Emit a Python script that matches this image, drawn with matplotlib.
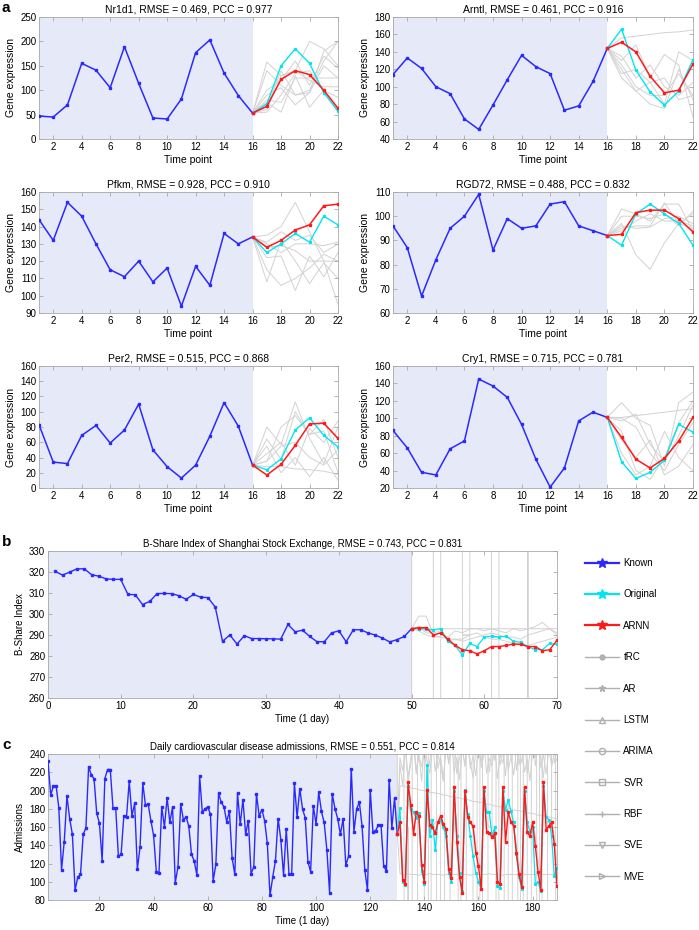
import matplotlib
matplotlib.use("Agg")
import matplotlib.pyplot as plt
from matplotlib.lines import Line2D

plt.rcParams['font.family'] = ['Liberation Sans', 'DejaVu Sans']
plt.rcParams['font.size'] = 7

# ---------------- data: panel a (genes) ----------------
t_known_a = list(range(1, 17))
t_pred_a = list(range(16, 23))

genes = ["Nr1d1", "Arntl", "Pfkm", "RGD72", "Per2", "Cry1"]
rmse_a = ["0.469", "0.461", "0.928", "0.488", "0.515", "0.715"]
pcc_a = ["0.977", "0.916", "0.910", "0.832", "0.868", "0.781"]

nr1d1_known = [47, 45, 70, 155, 141, 105, 189, 114, 43, 41, 82, 177, 203, 135, 89, 53]
nr1d1_orig = [53, 72, 150, 185, 155, 95, 57]
nr1d1_arnn = [53, 67, 122, 140, 132, 100, 63]
nr1d1_gray = [
    [53, 158, 130, 140, 200, 185, 150],
    [53, 140, 110, 90, 95, 180, 200],
    [53, 100, 120, 160, 110, 170, 145],
    [53, 60, 130, 140, 120, 107, 107],
    [53, 75, 55, 130, 65, 100, 60],
    [53, 90, 105, 70, 95, 150, 125],
    [53, 80, 75, 125, 125, 125, 125],
    [53, 55, 90, 135, 140, 100, 85],
    [53, 65, 140, 90, 100, 160, 200],
]

arntl_known = [114, 133, 121, 100, 92, 63, 51, 79, 108, 136, 123, 115, 73, 78, 106, 144]
arntl_orig = [144, 166, 119, 94, 79, 95, 131]
arntl_arnn = [144, 151, 140, 112, 93, 96, 126]
arntl_gray = [
    [144, 156, 158, 160, 162, 163, 165],
    [144, 130, 148, 110, 137, 125, 65],
    [144, 110, 95, 105, 80, 140, 130],
    [144, 120, 95, 80, 75, 120, 85],
    [144, 135, 110, 125, 100, 90, 105],
    [144, 125, 100, 90, 90, 115, 90],
    [144, 115, 120, 105, 110, 85, 90],
]

pfkm_known = [144, 132, 154, 146, 130, 115, 111, 120, 108, 116, 94, 117, 106, 136, 130, 134]
pfkm_orig = [134, 125, 130, 136, 131, 146, 141]
pfkm_arnn = [134, 128, 132, 138, 141, 152, 153]
pfkm_gray = [
    [134, 135, 140, 154, 137, 120, 95],
    [134, 122, 123, 103, 123, 111, 125],
    [134, 115, 106, 110, 116, 124, 120],
    [134, 108, 132, 120, 107, 119, 110],
    [134, 130, 125, 130, 130, 129, 131],
    [134, 128, 129, 126, 120, 120, 120],
    [134, 131, 137, 132, 135, 125, 130],
]

rgd72_known = [96, 87, 67, 82, 95, 100, 109, 86, 99, 95, 96, 105, 106, 96, 94, 92]
rgd72_orig = [92, 88, 101, 105, 101, 97, 88]
rgd72_arnn = [92, 92.5, 101.5, 102.5, 102.5, 99, 93.5]
rgd72_gray = [
    [92, 103, 101, 98, 105, 105, 94],
    [92, 97, 84, 78, 89, 97, 101],
    [92, 95, 96, 96, 105.5, 97, 95],
    [92, 100, 100, 99, 101, 96, 102],
    [92, 94, 98, 101, 98, 98, 96],
    [92, 96, 95, 95.5, 99, 100, 97],
]

per2_known = [83, 34, 32, 69, 82, 59, 76, 110, 50, 28, 13, 30, 68, 112, 81, 30]
per2_orig = [30, 24, 38, 76, 92, 69, 54]
per2_arnn = [30, 17, 31, 56, 84, 85, 65]
per2_gray = [
    [30, 80, 57, 113, 65, 32, 80],
    [30, 64, 38, 100, 70, 90, 40],
    [30, 35, 80, 95, 70, 75, 20],
    [30, 28, 28, 25, 24, 22, 18],
    [30, 55, 20, 40, 15, 40, 10],
    [30, 35, 55, 60, 40, 30, 50],
    [30, 45, 60, 30, 78, 60, 88],
]

cry1_known = [86, 66, 38, 35, 65, 74, 145, 137, 124, 93, 53, 21, 43, 97, 107, 101]
cry1_orig = [101, 50, 31, 38, 52, 93, 84]
cry1_arnn = [101, 78, 53, 43, 54, 74, 101]
cry1_gray = [
    [101, 101, 103, 105, 107, 109, 111],
    [101, 118, 100, 92, 45, 118, 130],
    [101, 97, 105, 70, 50, 80, 115],
    [101, 60, 35, 45, 85, 55, 40],
    [101, 85, 40, 30, 55, 95, 120],
    [101, 100, 90, 60, 40, 70, 95],
    [101, 75, 55, 75, 35, 45, 70],
]

gene_known = [nr1d1_known, arntl_known, pfkm_known, rgd72_known, per2_known, cry1_known]
gene_orig = [nr1d1_orig, arntl_orig, pfkm_orig, rgd72_orig, per2_orig, cry1_orig]
gene_arnn = [nr1d1_arnn, arntl_arnn, pfkm_arnn, rgd72_arnn, per2_arnn, cry1_arnn]
gene_gray = [nr1d1_gray, arntl_gray, pfkm_gray, rgd72_gray, per2_gray, cry1_gray]
gene_ylim = [(0, 250), (40, 180), (90, 160), (60, 110), (0, 160), (20, 160)]
gene_ystep = [50, 20, 10, 10, 20, 20]

# ---------------- data: panel b (stock) ----------------
t_known_b = list(range(1, 51))
t_pred_b = list(range(50, 71))
stock_known = [320.3, 318.5, 320, 321.5, 321.5, 318.7, 318, 316.7, 316.5, 316.5,
               309.3, 309.2, 304.5, 306, 309.7, 309.8, 309.7, 308.7, 307, 309.3,
               308, 307.8, 303.3, 287, 290, 285.7, 289.7, 288.3, 288.3, 288.2,
               288.2, 288, 295, 291.5, 292.3, 289.3, 286.8, 286.8, 291, 292,
               286.8, 292.5, 292.5, 291, 290, 288.5, 286.7, 287.8, 289.3, 293]
stock_orig = [293, 293, 293, 292.5, 293, 287, 285, 280.5, 286, 284.5, 289,
              289.5, 289, 289.5, 287, 286.5, 284.5, 283, 283, 286, 285.5]
stock_arnn = [293, 293.5, 293.5, 290, 291, 288, 285, 283, 282.5, 281, 282.5,
              284.5, 284.5, 285, 285.7, 285.5, 284.5, 284.5, 282.5, 283, 287.5]
stock_gray = [
    [293, 299, 299, 290, 291, 289, 292, 291, 293, 293, 292, 293, 292, 291, 293, 292, 293, 294, 296, 293, 291],
    [293, 293, 292, 292, 293, 293, 293, 293, 293, 293, 293, 293, 293, 293, 293, 293, 293, 293, 293, 293, 293],
    [293, 292, 290, 289, 289, 288, 288, 287, 288, 289, 290, 291, 290, 289, 289, 288, 290, 291, 292, 293, 290],
    [293, 294, 291, 291, 292, 287, 288, 288, 290, 291, 289, 288, 288, 287, 286, 286, 285, 286, 287, 288, 289],
    [293, 5000, 5000, 290, 289, 5000, 5000, 290, 290, 5000, 5000, 289, 289, 5000, 5000, 5000, 290, 5000, 5000, 5000, 5000],
    [293, -5000, -5000, 290, 289, -5000, -5000, 290, 290, -5000, -5000, 289, 289, -5000, -5000, -5000, 290, -5000, -5000, -5000, -5000],
]

# ---------------- data: panel c (admissions) ----------------
t_known_c = list(range(1, 131))
t_pred_c = list(range(130, 190))
adm_known = [232, 195, 205, 205, 181, 113, 144, 194, 169, 152,
             91, 105, 108, 152, 159, 226, 217, 213, 175, 164,
             123, 213, 223, 223, 181, 181, 128, 130, 172, 171,
             210, 172, 186, 114, 138, 208, 184, 185, 167, 151,
             111, 110, 182, 160, 192, 165, 182, 99, 116, 185,
             168, 171, 161, 130, 123, 107, 216, 176, 180, 182,
             174, 101, 119, 197, 187, 182, 166, 177, 126, 108,
             197, 163, 190, 152, 167, 109, 116, 196, 172, 179,
             167, 142, 85, 105, 123, 169, 146, 107, 158, 109,
             108, 208, 171, 202, 180, 170, 122, 111, 183, 163,
             198, 177, 165, 135, 88, 196, 180, 169, 152, 169,
             118, 128, 224, 155, 180, 187, 161, 113, 91, 201,
             155, 156, 162, 162, 117, 112, 212, 159, 192, 152]
adm_arnn = [152, 165, 102, 98, 209, 184, 152, 176, 172, 118,
            100, 201, 162, 160, 153, 165, 172, 163, 158, 114,
            104, 204, 144, 105, 88, 200, 171, 165, 161, 132,
            117, 92, 204, 155, 153, 149, 153, 100, 97, 204,
            144, 176, 166, 161, 132, 108, 94, 204, 154, 150,
            165, 139, 111, 91, 209, 157, 161, 165, 141, 95]
adm_orig = [152, 181, 100, 96, 205, 180, 176, 170, 175, 112,
            98, 228, 150, 168, 135, 165, 168, 160, 150, 110,
            100, 200, 150, 110, 90, 201, 174, 150, 128, 110,
            100, 92, 200, 176, 176, 150, 160, 95, 93, 200,
            179, 190, 177, 165, 130, 105, 92, 200, 165, 155,
            160, 97, 100, 90, 205, 171, 168, 150, 106, 115]
adm_gray = [
    [152, 205, 205, 204, 203, 203, 202, 202, 201, 200, 200, 199, 198, 198, 197,
     197, 196, 195, 195, 194, 193, 193, 192, 192, 191, 190, 190, 189, 188, 188,
     187, 187, 186, 185, 185, 184, 183, 183, 182, 182, 181, 180, 180, 179, 178,
     178, 177, 177, 176, 175, 175, 174, 173, 173, 172, 172, 171, 170, 170, 169],
    [152, 109, 108, 108, 109, 108, 108, 108, 107, 108, 108, 108, 109, 108, 108,
     108, 108, 107, 108, 108, 108, 108, 108, 109, 108, 108, 108, 107, 108, 108,
     108, 108, 108, 108, 109, 108, 108, 108, 108, 107, 108, 108, 108, 108, 108,
     108, 109, 108, 108, 108, 108, 108, 107, 108, 108, 108, 108, 108, 108, 108],
    [152, 228, 205, 250, 215, 236, 262, 222, 240, 210, 255, 232, 219, 246, 268,
     224, 238, 212, 250, 229, 244, 260, 218, 235, 248, 226, 265, 230, 214, 242,
     256, 225, 239, 262, 220, 247, 233, 270, 228, 242, 216, 252, 236, 264, 222,
     245, 230, 258, 219, 240, 266, 227, 249, 235, 214, 251, 238, 262, 230, 244],
    [152, 236, 222, 245, 208, 230, 252, 218, 238, 226, 248, 214, 232, 255, 221,
     240, 228, 210, 246, 233, 258, 220, 236, 212, 244, 229, 251, 224, 238, 216,
     247, 231, 256, 219, 235, 227, 249, 213, 240, 230, 254, 222, 237, 217, 245,
     228, 252, 220, 234, 211, 243, 236, 257, 225, 239, 218, 248, 226, 241, 232],
    [152, 170, 120, 110, 190, 175, 160, 170, 165, 125, 115, 185, 170, 160, 165,
     165, 170, 165, 155, 125, 115, 185, 165, 125, 110, 185, 170, 165, 160, 140,
     125, 110, 190, 165, 160, 160, 160, 120, 110, 190, 160, 170, 165, 160, 140,
     120, 110, 190, 160, 160, 165, 150, 125, 108, 195, 165, 165, 165, 150, 120],
    [152, 5000, 5000, -5000, 160, -5000, 5000, 5000, -5000, -5000, 150, 5000, -5000, 5000, 5000,
     -5000, 160, 5000, -5000, -5000, 5000, 155, 5000, -5000, 5000, 5000, -5000, -5000, 170, 5000,
     -5000, 5000, -5000, -5000, 5000, 150, 5000, -5000, 5000, 5000, -5000, 165, 5000, -5000, -5000,
     5000, -5000, 5000, 160, -5000, 5000, 5000, -5000, 5000, -5000, -5000, 5000, 150, 5000, -5000],
]

# ---------------- styling ----------------
C_KNOWN = '#2a2aff'
C_ORIG = '#00e5f0'
C_ARNN = '#ff1a1a'
C_GRAY = '#d2d2d2'
C_SHADE = '#e6e9f7'
C_AX = '#a8a8a8'

W, H = 699, 930
fig = plt.figure(figsize=(W / 100, H / 100), dpi=100)


def rect(l, t, r, b):
    return [l / W, 1 - b / H, (r - l) / W, (b - t) / H]


def style(ax):
    for s in ax.spines.values():
        s.set_color(C_AX)
        s.set_linewidth(0.6)
    ax.tick_params(direction='in', top=True, right=True, color=C_AX,
                   length=3, width=0.6, labelsize=7, pad=2)


def draw(ax, tk, known, tp, orig, arnn, grays, shade_to, ms=1.6, lw=1.1):
    ax.axvspan(ax.get_xlim()[0] - 10, shade_to, color=C_SHADE, zorder=0, lw=0)
    for g in grays:
        ax.plot(tp, g, color=C_GRAY, lw=0.7, zorder=1)
    ax.plot(tk, known, color=C_KNOWN, lw=lw, marker='s', ms=ms, zorder=3)
    ax.plot(tp, orig, color=C_ORIG, lw=lw * 0.9, marker='s', ms=ms * 0.8, zorder=3)
    ax.plot(tp, arnn, color=C_ARNN, lw=lw, marker='s', ms=ms, zorder=4)


cols = [(39, 338), (393, 693)]
rows = [(17, 139), (192, 313), (366, 488)]
for i in range(6):
    r, c = divmod(i, 2)
    l, rr = cols[c]
    t, b = rows[r]
    ax = fig.add_axes(rect(l, t, rr, b))
    ax.set_xlim(1, 22)
    ax.set_ylim(*gene_ylim[i])
    draw(ax, t_known_a, gene_known[i], t_pred_a, gene_orig[i], gene_arnn[i], gene_gray[i], 16)
    ax.set_xlim(1, 22)
    ax.set_ylim(*gene_ylim[i])
    ax.set_xticks(range(2, 23, 2))
    lo, hi = gene_ylim[i]
    ax.set_yticks(range(lo, hi + 1, gene_ystep[i]))
    ax.set_title(f"{genes[i]}, RMSE = {rmse_a[i]}, PCC = {pcc_a[i]}", fontsize=7.5, pad=3)
    ax.set_xlabel("Time point", fontsize=7.5, labelpad=2)
    ax.set_ylabel("Gene expression", fontsize=7.5, labelpad=3)
    style(ax)

# panel b
axb = fig.add_axes(rect(48, 551, 557, 698))
axb.set_xlim(0, 70)
axb.set_ylim(260, 330)
draw(axb, t_known_b, stock_known, t_pred_b, stock_orig, stock_arnn, stock_gray, 50, ms=1.6, lw=1.0)
axb.set_xlim(0, 70)
axb.set_ylim(260, 330)
axb.set_xticks(range(0, 71, 10))
axb.set_yticks(range(260, 331, 10))
axb.set_title("B-Share Index of Shanghai Stock Exchange, RMSE = 0.743, PCC = 0.831", fontsize=7, pad=3)
axb.set_xlabel("Time (1 day)", fontsize=7, labelpad=2)
axb.set_ylabel("B-Share Index", fontsize=7, labelpad=3)
style(axb)

# panel c
axc = fig.add_axes(rect(48, 754, 557, 900))
axc.set_xlim(1, 189)
axc.set_ylim(80, 240)
draw(axc, t_known_c, adm_known, t_pred_c, adm_orig, adm_arnn, adm_gray, 130, ms=1.5, lw=1.0)
axc.set_xlim(1, 189)
axc.set_ylim(80, 240)
axc.set_xticks(range(20, 181, 20))
axc.set_yticks(range(80, 241, 20))
axc.set_title("Daily cardiovascular disease admissions, RMSE = 0.551, PCC = 0.814", fontsize=7, pad=3)
axc.set_xlabel("Time (1 day)", fontsize=7, labelpad=2)
axc.set_ylabel("Admissions", fontsize=7, labelpad=3)
style(axc)

# panel letters
fig.text(2 / W, 1 - 8 / H, 'a', fontsize=11, fontweight='bold', va='center', ha='left')
fig.text(2 / W, 1 - 542 / H, 'b', fontsize=11, fontweight='bold', va='center', ha='left')
fig.text(2 / W, 1 - 745 / H, 'c', fontsize=11, fontweight='bold', va='center', ha='left')

# legend
LG = '#b0b0b0'
legend_labels = ["Known", "Original", "ARNN", "tRC", "AR", "LSTM", "ARIMA", "SVR", "RBF", "SVE", "MVE"]
handles = [
    Line2D([], [], color=C_KNOWN, lw=1.6, marker='*', ms=7),
    Line2D([], [], color=C_ORIG, lw=1.6, marker='*', ms=7),
    Line2D([], [], color=C_ARNN, lw=1.6, marker='*', ms=7),
    Line2D([], [], color=LG, lw=1.0, marker='o', ms=3.5),
    Line2D([], [], color=LG, lw=1.0, marker='*', ms=5),
    Line2D([], [], color=LG, lw=1.0, marker='^', ms=4.5, mfc='none'),
    Line2D([], [], color=LG, lw=1.0, marker='o', ms=4.5, mfc='none'),
    Line2D([], [], color=LG, lw=1.0, marker='s', ms=4.5, mfc='none'),
    Line2D([], [], color=LG, lw=1.0, marker='+', ms=5),
    Line2D([], [], color=LG, lw=1.0, marker='v', ms=4.5, mfc='none'),
    Line2D([], [], color=LG, lw=1.0, marker='>', ms=4.5, mfc='none'),
]
fig.legend(handles, legend_labels, loc='upper left', bbox_to_anchor=(585 / W, 1 - 558 / H),
           frameon=False, fontsize=7, handlelength=3.5, handletextpad=0.45,
           labelspacing=2.2, borderpad=0, borderaxespad=0)

fig.savefig('out.png', dpi=100)
